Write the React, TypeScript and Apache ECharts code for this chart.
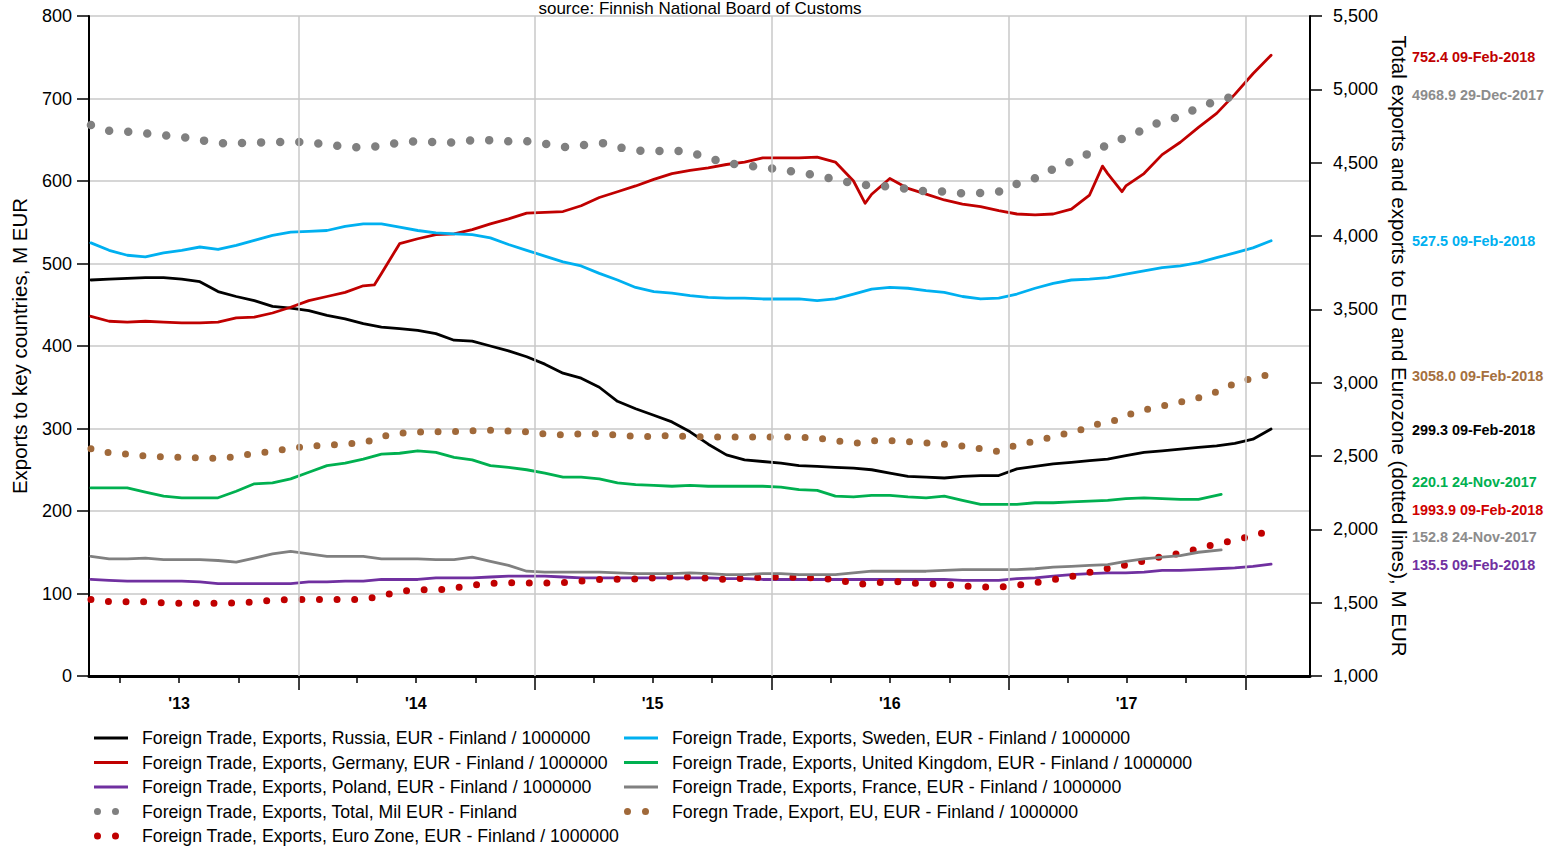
import React, { useEffect, useRef } from "react";
import * as echarts from "echarts";

const FONT = "'Liberation Sans', Arial, Helvetica, sans-serif";
const DAY = 86400000;

// ---- x values (dates) ----
const weeklyStart = Date.UTC(2013, 1, 15);
const weeklyDates = Array.from({ length: 66 }, (_, k) => weeklyStart + k * 28 * DAY);
const monthlyDates = Array.from({ length: 60 }, (_, i) => Date.UTC(2013, 1 + i, 15));
const ukFranceLastDate = "2017-11-24";
const totalLastDate = "2017-12-29";
const euLastDate = "2018-02-09";

// ---- series values (left axis, M EUR) ----
const russia = [
  480, 481, 482, 483, 483, 481, 478, 466, 460, 455,
  448, 446, 443, 437, 433, 427, 423, 421, 419, 415,
  407, 406, 400, 394, 387, 378, 367, 361, 350, 333,
  324, 316, 308, 296, 281, 268, 262, 260, 258, 255,
  254, 253, 252, 250, 246, 242, 241, 240, 242, 243,
  243, 251, 254, 257, 259, 261, 263, 267, 271, 273,
  275, 277, 279, 282, 287, 299.3,
];
const germany = [
  436, 430, 429, 430, 429, 428, 428, 429, 434, 435,
  440, 447, 455, 460, 465, 473, 488, 524, 530, 535,
  536, 541, 548, 554, 561, 562, 563, 570, 580, 587,
  594, 602, 609, 613, 616, 620, 623, 628, 628, 628,
  629, 623, 600, 584, 603, 591, 584, 577, 572, 569,
  564, 560, 559, 560, 566, 583, 609, 594, 609, 632,
  647, 665, 682, 705, 730, 752.4,
];
const germanyExtraDates = ["2014-04-28", "2016-05-24", "2017-05-25", "2017-06-24"];
const germanyExtra = [474, 573, 618, 587];
const poland = [
  117, 116, 115, 115, 115, 115, 114, 112, 112, 112,
  112, 112, 114, 114, 115, 115, 117, 117, 117, 119,
  119, 119, 120, 121, 121, 121, 120, 119, 119, 119,
  119, 119, 119, 119, 119, 118, 118, 117, 117, 117,
  117, 117, 117, 117, 117, 117, 117, 117, 116, 116,
  116, 118, 119, 121, 123, 124, 125, 125, 126, 128,
  128, 129, 130, 131, 133, 135.5,
];
const sweden = [
  525, 516, 510, 508, 513, 516, 520, 517, 522, 528,
  534, 538, 539, 540, 545, 548, 548, 544, 540, 537,
  536, 535, 531, 523, 516, 509, 502, 497, 488, 480,
  471, 466, 464, 461, 459, 458, 458, 457, 457, 457,
  455, 457, 463, 469, 471, 470, 467, 465, 460, 457,
  458, 463, 470, 476, 480, 481, 483, 487, 491, 495,
  497, 501, 507, 513, 519, 527.5,
];
const unitedKingdom = [
  228, 228, 228, 223, 218, 216, 216, 216, 224, 233,
  234, 239, 247, 255, 258, 263, 269, 270, 273, 271,
  265, 262, 255, 253, 250, 246, 241, 241, 239, 234,
  232, 231, 230, 231, 230, 230, 230, 230, 229, 226,
  225, 218, 217, 219, 219, 217, 216, 218, 213, 208,
  208, 208, 210, 210, 211, 212, 213, 215, 216, 215,
  214, 214, 220.1,
];
const france = [
  145, 142, 142, 143, 141, 141, 141, 140, 138, 143,
  148, 151, 148, 145, 145, 145, 142, 142, 142, 141,
  141, 144, 139, 134, 127, 126, 126, 126, 126, 125,
  124, 124, 124, 125, 124, 123, 123, 124, 124, 123,
  123, 123, 125, 127, 127, 127, 127, 128, 129, 129,
  129, 129, 130, 132, 133, 134, 135, 139, 142, 144,
  146, 150, 152.8,
];

// ---- series values (right axis, M EUR) ----
const total = [
  4757, 4718, 4711, 4698, 4683, 4670, 4645, 4628, 4637, 4639,
  4641, 4640, 4622, 4608, 4602, 4620, 4645, 4645, 4632, 4650,
  4656, 4646, 4649, 4630, 4606, 4620, 4634, 4600, 4580, 4580,
  4580, 4548, 4505, 4482, 4472, 4452, 4430, 4410, 4378, 4350,
  4343, 4330, 4307, 4305, 4292, 4292, 4300, 4360, 4400, 4470,
  4522, 4588, 4645, 4700, 4765, 4806, 4865, 4920, 4968.9,
];
const eu = [
  2550, 2523, 2512, 2498, 2492, 2492, 2483, 2490, 2510, 2528,
  2548, 2566, 2573, 2582, 2595, 2638, 2659, 2665, 2665, 2670,
  2676, 2672, 2666, 2650, 2643, 2653, 2652, 2640, 2632, 2638,
  2635, 2630, 2630, 2630, 2630, 2630, 2628, 2620, 2600, 2588,
  2608, 2602, 2592, 2584, 2572, 2552, 2530, 2580, 2605, 2638,
  2668, 2715, 2745, 2800, 2830, 2862, 2890, 2935, 2995, 3035,
  3058,
];
const euroZone = [
  1521, 1507, 1507, 1505, 1496, 1496, 1496, 1496, 1502, 1514,
  1521, 1521, 1521, 1521, 1523, 1555, 1580, 1588, 1590, 1612,
  1630, 1636, 1635, 1634, 1637, 1648, 1659, 1659, 1662, 1675,
  1677, 1670, 1660, 1665, 1672, 1675, 1672, 1668, 1652, 1625,
  1638, 1642, 1630, 1625, 1617, 1607, 1605, 1620, 1640, 1660,
  1685, 1718, 1745, 1770, 1805, 1832, 1862, 1900, 1925, 1960,
  1993.9,
];

// ---- axis ticks & labels ----
const xLabelYears = [2013, 2014, 2015, 2016, 2017];
const xLabels = ["'13", "'14", "'15", "'16", "'17"];
const yearBoundaryYears = [2014, 2015, 2016, 2017, 2018];
const quarterMonths = [3, 6, 9];

// ---- names ----
const names = {
  russia: "Foreign Trade, Exports, Russia, EUR - Finland / 1000000",
  germany: "Foreign Trade, Exports, Germany, EUR - Finland / 1000000",
  poland: "Foreign Trade, Exports, Poland, EUR - Finland / 1000000",
  total: "Foreign Trade, Exports, Total, Mil EUR - Finland",
  euroZone: "Foreign Trade, Exports, Euro Zone, EUR - Finland / 1000000",
  sweden: "Foreign Trade, Exports, Sweden, EUR - Finland / 1000000",
  uk: "Foreign Trade, Exports, United Kingdom, EUR - Finland / 1000000",
  france: "Foreign Trade, Exports, France, EUR - Finland / 1000000",
  eu: "Foregn Trade, Export, EU, EUR - Finland / 1000000",
};

const lastValueLabels = [
  { text: "752.4 09-Feb-2018", color: "#c00000" },
  { text: "4968.9 29-Dec-2017", color: "#8c8c8c" },
  { text: "527.5 09-Feb-2018", color: "#00b0f0" },
  { text: "3058.0 09-Feb-2018", color: "#a5703e" },
  { text: "299.3 09-Feb-2018", color: "#000000" },
  { text: "220.1 24-Nov-2017", color: "#00b050" },
  { text: "1993.9 09-Feb-2018", color: "#d00000" },
  { text: "152.8 24-Nov-2017", color: "#8c8c8c" },
  { text: "135.5 09-Feb-2018", color: "#7030a0" },
];
const lastValueLabelY = [57, 95, 241, 376, 430, 482, 510, 537, 565];

const COLORS = {
  russia: "#000000",
  germany: "#c00000",
  poland: "#7030a0",
  total: "#808080",
  euroZone: "#c00000",
  sweden: "#00b0f0",
  uk: "#00b050",
  france: "#808080",
  eu: "#a0693a",
};

const pair = (dates: number[], values: number[]) => values.map((v, i) => [dates[i], v]);

export default function App() {
  const ref = useRef<HTMLDivElement>(null);

  useEffect(() => {
    if (!ref.current) return;
    document.body.style.margin = "0";
    document.body.style.overflow = "hidden";
    const chart = echarts.init(ref.current, undefined, { renderer: "svg" });

    const xMin = Date.UTC(2013, 1, 12);
    const xMax = Date.UTC(2018, 3, 10);
    const yearStarts = yearBoundaryYears.map((y) => Date.UTC(y, 0, 1));
    const quarterTicks: number[] = [];
    xLabelYears.forEach((y) => quarterMonths.forEach((m) => quarterTicks.push(Date.UTC(y, m, 1))));
    const labelPos = xLabelYears.map((y) => Date.UTC(y, 6, 1));

    const germanyData = pair(weeklyDates, germany)
      .concat(germanyExtraDates.map((d, i) => [Date.parse(d), germanyExtra[i]]))
      .sort((a, b) => a[0] - b[0]);
    const ukData = pair(weeklyDates.slice(0, 62), unitedKingdom.slice(0, 62)).concat([
      [Date.parse(ukFranceLastDate), unitedKingdom[62]],
    ]);
    const franceData = pair(weeklyDates.slice(0, 62), france.slice(0, 62)).concat([
      [Date.parse(ukFranceLastDate), france[62]],
    ]);
    const totalData = pair(monthlyDates.slice(0, 58), total.slice(0, 58)).concat([
      [Date.parse(totalLastDate), total[58]],
    ]);
    const euData = pair(monthlyDates, eu.slice(0, 60)).concat([[Date.parse(euLastDate), eu[60]]]);
    const ezData = pair(monthlyDates, euroZone.slice(0, 60)).concat([
      [Date.parse(euLastDate), euroZone[60]],
    ]);

    const solid = (name: string, color: string, data: number[][], z = 3) => ({
      type: "line",
      name,
      data,
      yAxisIndex: 0,
      showSymbol: false,
      symbol: "none",
      color,
      lineStyle: { color, width: 2.8, cap: "round", join: "round" },
      emphasis: { disabled: true },
      z,
    });
    const dotted = (name: string, color: string, data: number[][], width: number, gap: number) => ({
      type: "line",
      name,
      data,
      yAxisIndex: 1,
      showSymbol: false,
      symbol: "none",
      color,
      lineStyle: { color, width, type: [0, gap], cap: "round" },
      emphasis: { disabled: true },
      z: 3,
    });

    const lineIcon = "path://M0,0L0,0M0,2H34V5H0ZM43,7L43,7";
    const dotIcon =
      "path://M0,0L0,0M0,3.5A3.5,3.5,0,1,0,7,3.5A3.5,3.5,0,1,0,0,3.5ZM18,3.5A3.5,3.5,0,1,0,25,3.5A3.5,3.5,0,1,0,18,3.5ZM43,7L43,7";

    const legendBase = {
      orient: "vertical",
      top: 728,
      padding: 0,
      itemWidth: 43,
      itemHeight: 7,
      itemGap: 4.5,
      selectedMode: false,
      itemStyle: { borderWidth: 0 },
      textStyle: { fontSize: 17.7, color: "#000", fontFamily: FONT, lineHeight: 20 },
    };

    chart.setOption({
      animation: false,
      backgroundColor: "#ffffff",
      textStyle: { fontFamily: FONT },
      title: {
        text: "source: Finnish National Board of Customs",
        left: 700,
        textAlign: "center",
        top: 0,
        padding: 0,
        textStyle: { fontSize: 17, fontWeight: "normal", color: "#000", fontFamily: FONT },
      },
      grid: { left: 89, right: 238, top: 16, bottom: 171, containLabel: false },
      legend: [
        {
          ...legendBase,
          left: 94,
          data: [
            { name: names.russia, icon: lineIcon },
            { name: names.germany, icon: lineIcon },
            { name: names.poland, icon: lineIcon },
            { name: names.total, icon: dotIcon },
            { name: names.euroZone, icon: dotIcon },
          ],
        },
        {
          ...legendBase,
          left: 624,
          data: [
            { name: names.sweden, icon: lineIcon },
            { name: names.uk, icon: lineIcon },
            { name: names.france, icon: lineIcon },
            { name: names.eu, icon: dotIcon },
          ],
        },
      ],
      xAxis: [
        {
          type: "value",
          min: xMin,
          max: xMax,
          position: "bottom",
          axisLine: { show: true, onZero: false, lineStyle: { color: "#000", width: 3 } },
          axisTick: {
            show: true,
            customValues: quarterTicks,
            length: 7,
            lineStyle: { color: "#000", width: 1.5 },
          },
          axisLabel: {
            show: true,
            customValues: labelPos,
            margin: 19,
            color: "#000",
            fontSize: 16,
            fontWeight: "bold",
            fontFamily: FONT,
            formatter: (v: number) => {
              const idx = labelPos.indexOf(v);
              return idx >= 0 ? xLabels[idx] : "";
            },
          },
          splitLine: { show: false },
        },
        {
          type: "value",
          min: xMin,
          max: xMax,
          position: "bottom",
          axisLine: { show: false, onZero: false },
          axisTick: {
            show: true,
            customValues: yearStarts,
            length: 14,
            lineStyle: { color: "#000", width: 1.5 },
          },
          axisLabel: { show: false },
          splitLine: { show: false },
        },
      ],
      yAxis: [
        {
          type: "value",
          position: "left",
          min: 0,
          max: 800,
          interval: 100,
          name: "Exports to key countries, M EUR",
          nameLocation: "middle",
          nameGap: 59,
          nameTextStyle: { fontSize: 20.5, color: "#000", fontFamily: FONT },
          axisLine: { show: true, lineStyle: { color: "#000", width: 2 } },
          axisTick: { show: true, length: 12, lineStyle: { color: "#000", width: 1.5 } },
          axisLabel: { color: "#000", fontSize: 18, margin: 17, fontFamily: FONT },
          splitLine: { show: true, lineStyle: { color: "#c8c8c8", width: 1.5 } },
        },
        {
          type: "value",
          position: "right",
          min: 1000,
          max: 5500,
          interval: 500,
          name: "Total exports and exports to EU and Eurozone (dotted lines), M EUR",
          nameLocation: "middle",
          nameRotate: -90,
          nameGap: 74,
          nameTextStyle: { fontSize: 20.5, color: "#000", fontFamily: FONT },
          axisLine: { show: true, lineStyle: { color: "#000", width: 2 } },
          axisTick: { show: true, length: 12, lineStyle: { color: "#000", width: 1.5 } },
          axisLabel: {
            color: "#000",
            fontSize: 18,
            margin: 23,
            fontFamily: FONT,
            formatter: (v: number) => v.toLocaleString("en-US"),
          },
          splitLine: { show: false },
        },
      ],
      series: [
        {
          type: "line",
          name: "__grid",
          data: [],
          silent: true,
          z: 1,
          markLine: {
            silent: true,
            symbol: ["none", "none"],
            label: { show: false },
            emphasis: { disabled: true },
            lineStyle: { color: "#c8c8c8", width: 1.5, type: "solid" },
            data: yearStarts.map((v) => ({ xAxis: v })),
          },
        },
        solid(names.russia, COLORS.russia, pair(weeklyDates, russia)),
        solid(names.germany, COLORS.germany, germanyData),
        solid(names.poland, COLORS.poland, pair(weeklyDates, poland)),
        dotted(names.total, COLORS.total, totalData, 8.5, 19.1),
        dotted(names.euroZone, COLORS.euroZone, ezData, 7, 17.6),
        solid(names.sweden, COLORS.sweden, pair(weeklyDates, sweden)),
        solid(names.uk, COLORS.uk, ukData),
        solid(names.france, COLORS.france, franceData),
        dotted(names.eu, COLORS.eu, euData, 7, 17.5),
      ],
      graphic: lastValueLabels.map((l, i) => ({
        type: "text",
        x: 1412,
        y: lastValueLabelY[i],
        silent: true,
        style: {
          text: l.text,
          fill: l.color,
          fontSize: 14.4,
          fontWeight: "bold",
          fontFamily: FONT,
          textAlign: "left",
          textVerticalAlign: "middle",
        },
      })),
    });

    return () => chart.dispose();
  }, []);

  return (
    <div
      ref={ref}
      style={{ position: "absolute", left: 0, top: 0, width: 1548, height: 847 }}
    />
  );
}
